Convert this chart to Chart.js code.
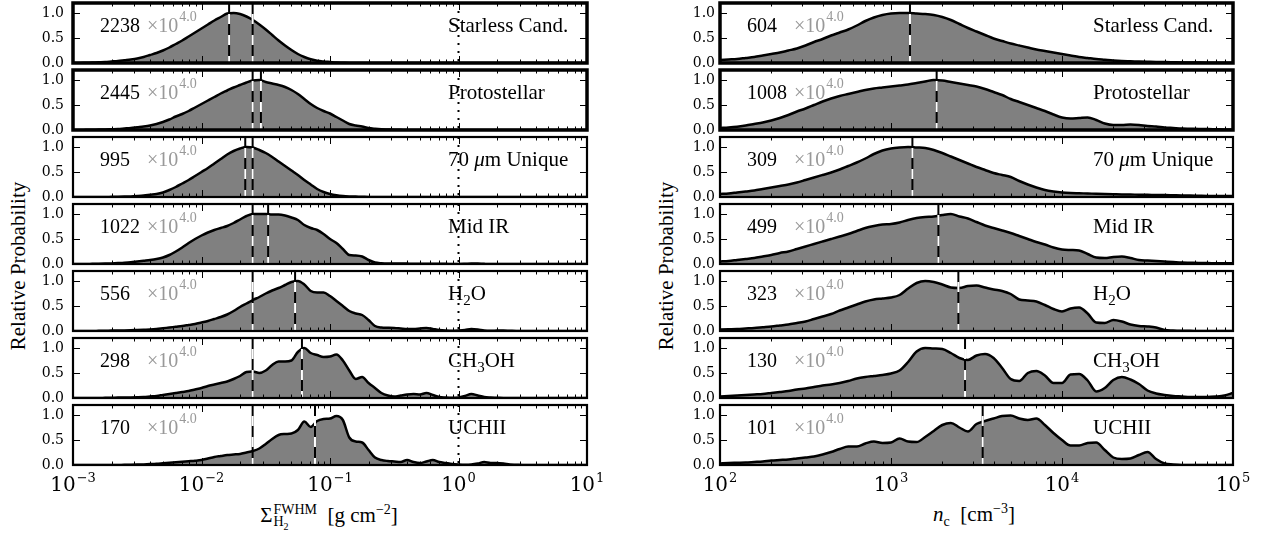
<!DOCTYPE html>
<html>
<head>
<meta charset="utf-8">
<script src="https://cdn.jsdelivr.net/npm/chart.js@4.4.1/dist/chart.umd.min.js"></script>
<style>
  body { margin: 0; background: #fff; width: 1263px; height: 533px; position: relative; overflow: hidden; font-family: "Liberation Serif", "DejaVu Serif", "Noto Serif", "Times New Roman", Times, serif; }
  canvas { position: absolute; }
  .ylab { position: absolute; font-size: 21px; white-space: nowrap; transform: translate(-50%, -50%) rotate(-90deg); }
  .xlab { position: absolute; font-size: 21px; line-height: 20px; white-space: nowrap; transform: translateX(-50%); }
  .stk { display: inline-block; vertical-align: -4px; font-size: 14px; line-height: 12px; margin-left: 1px; }
  .stk span { display: block; }
  .stk sub { font-size: 10px; line-height: 0; }
  .xlab sup { font-size: 14px; line-height: 0; vertical-align: 8px; }
  .xlab > sub { font-size: 14px; line-height: 0; }
</style>
</head>
<body>
<div class="ylab" style="left:18px;top:266px">Relative Probability</div>
<div class="ylab" style="left:666px;top:266px">Relative Probability</div>
<div class="xlab" style="left:329px;top:504px">Σ<span class="stk"><span>FWHM</span><span>H<sub>2</sub></span></span>&nbsp;&nbsp;[g&nbsp;cm<sup>−2</sup>]</div>
<div class="xlab" style="left:974px;top:504px"><i>n</i><sub>c</sub>&nbsp;&nbsp;[cm<sup>−3</sup>]</div>

<script>
// x grids (log10 of the value)
const SIGMA_LOGX = [
  -3.00, -2.95, -2.90, -2.85, -2.80, -2.75, -2.70, -2.65, -2.60, -2.55,
  -2.50, -2.45, -2.40, -2.35, -2.30, -2.25, -2.20, -2.15, -2.10, -2.05,
  -2.00, -1.95, -1.90, -1.85, -1.80, -1.75, -1.70, -1.65, -1.60, -1.55,
  -1.50, -1.45, -1.40, -1.35, -1.30, -1.25, -1.20, -1.15, -1.10, -1.05,
  -1.00, -0.95, -0.90, -0.85, -0.80, -0.75, -0.70, -0.65, -0.60, -0.55,
  -0.50, -0.45, -0.40, -0.35, -0.30, -0.25, -0.20, -0.15, -0.10, -0.05,
  0.00, 0.05, 0.10, 0.15, 0.20, 0.25, 0.30, 0.35, 0.40, 0.45,
  0.50, 0.55, 0.60, 0.65, 0.70, 0.75, 0.80, 0.85, 0.90, 0.95,
  1.00
];
const DENS_LOGX = [
  2.00, 2.05, 2.10, 2.15, 2.20, 2.25, 2.30, 2.35, 2.40, 2.45,
  2.50, 2.55, 2.60, 2.65, 2.70, 2.75, 2.80, 2.85, 2.90, 2.95,
  3.00, 3.05, 3.10, 3.15, 3.20, 3.25, 3.30, 3.35, 3.40, 3.45,
  3.50, 3.55, 3.60, 3.65, 3.70, 3.75, 3.80, 3.85, 3.90, 3.95,
  4.00, 4.05, 4.10, 4.15, 4.20, 4.25, 4.30, 4.35, 4.40, 4.45,
  4.50, 4.55, 4.60, 4.65, 4.70, 4.75, 4.80, 4.85, 4.90, 4.95,
  5.00
];

const CATEGORIES = ['Starless Cand.', 'Protostellar', '70 μm Unique', 'Mid IR', 'H2O', 'CH3OH', 'UCHII'];
const SIGMA_COUNTS = [2238, 2445, 995, 1022, 556, 298, 170];
const DENS_COUNTS = [604, 1008, 309, 499, 323, 130, 101];
const SCALE_NOTE = ['×10', '4.0'];

// dashed lines: medians, plus the fixed cut and dotted line on the left
const SIGMA_MEDIANS = [0.0164, 0.029, 0.0219, 0.033, 0.0535, 0.0605, 0.0764];
const DENS_MEDIANS = [1291, 1849, 1334, 1893, 2477, 2710, 3436];
const SIGMA_CUT = 0.025;
const SIGMA_DOTTED = 1.0;

const SIGMA_DECADES = [-3, -2, -1, 0, 1];
const DENS_DECADES = [2, 3, 4, 5];
const Y_TICKS = [0, 0.5, 1.0];

// Surface density distributions
const sigmaStarless = [
  0, 0, 0.005, 0.01, 0.015, 0.02, 0.03, 0.04, 0.055, 0.07,
  0.09, 0.12, 0.16, 0.2, 0.25, 0.31, 0.38, 0.45, 0.53, 0.61,
  0.69, 0.77, 0.85, 0.92, 0.99, 1.0, 0.98, 0.93, 0.86, 0.77,
  0.67, 0.56, 0.45, 0.35, 0.26, 0.18, 0.12, 0.075, 0.045, 0.03,
  0.02, 0.01, 0.005, 0, 0, 0, 0, 0, 0, 0,
  0, 0, 0, 0, 0, 0, 0, 0, 0, 0,
  0, 0, 0, 0, 0, 0, 0, 0, 0, 0,
  0, 0, 0, 0, 0, 0, 0, 0, 0, 0,
  0
];
const sigmaProto = [
  0, 0, 0.003, 0.005, 0.008, 0.01, 0.015, 0.02, 0.03, 0.04,
  0.055, 0.07, 0.09, 0.12, 0.16, 0.21, 0.27, 0.32, 0.38, 0.45,
  0.52, 0.59, 0.66, 0.73, 0.79, 0.85, 0.9, 0.95, 0.99, 1.0,
  0.96, 0.93, 0.9, 0.86, 0.8, 0.72, 0.62, 0.52, 0.44, 0.38,
  0.33, 0.26, 0.19, 0.12, 0.09, 0.07, 0.04, 0.025, 0.015, 0.01,
  0.005, 0.003, 0, 0, 0, 0, 0, 0, 0, 0,
  0, 0, 0, 0, 0, 0, 0, 0, 0, 0,
  0, 0, 0, 0, 0, 0, 0, 0, 0, 0,
  0
];
const sigma70um = [
  0, 0, 0, 0, 0, 0, 0.003, 0.005, 0.008, 0.012,
  0.02, 0.03, 0.045, 0.06, 0.09, 0.14, 0.2, 0.27, 0.34, 0.42,
  0.5, 0.58, 0.67, 0.76, 0.85, 0.92, 0.97, 1.0, 0.99, 0.94,
  0.88, 0.8, 0.71, 0.62, 0.53, 0.44, 0.34, 0.25, 0.16, 0.1,
  0.06, 0.035, 0.02, 0.012, 0.008, 0.005, 0, 0, 0, 0,
  0, 0, 0, 0, 0, 0, 0, 0, 0, 0,
  0, 0, 0, 0, 0, 0, 0, 0, 0, 0,
  0, 0, 0, 0, 0, 0, 0, 0, 0, 0,
  0
];
const sigmaMidIR = [
  0, 0, 0, 0.003, 0.005, 0.008, 0.012, 0.018, 0.025, 0.035,
  0.05, 0.065, 0.08, 0.1, 0.13, 0.18, 0.25, 0.33, 0.42, 0.5,
  0.57, 0.63, 0.68, 0.72, 0.76, 0.82, 0.89, 0.96, 1.0, 1.0,
  1.0, 0.99, 0.99, 0.97, 0.93, 0.88, 0.78, 0.72, 0.68, 0.6,
  0.5, 0.42, 0.3, 0.18, 0.17, 0.15, 0.08, 0.03, 0.015, 0.01,
  0.012, 0.01, 0.008, 0.006, 0.005, 0.004, 0.004, 0.003, 0.003, 0.002,
  0.002, 0.005, 0.01, 0.008, 0.003, 0, 0, 0, 0, 0,
  0, 0, 0, 0, 0, 0, 0, 0, 0, 0,
  0
];
const sigmaH2O = [
  0, 0, 0, 0, 0.003, 0.005, 0.008, 0.01, 0.012, 0.015,
  0.02, 0.025, 0.03, 0.04, 0.055, 0.07, 0.085, 0.1, 0.12, 0.14,
  0.17, 0.2, 0.24, 0.28, 0.33, 0.4, 0.48, 0.55, 0.62, 0.68,
  0.75, 0.81, 0.86, 0.92, 0.98, 1.0, 0.93, 0.8, 0.77, 0.77,
  0.7, 0.6, 0.5, 0.4, 0.35, 0.32, 0.22, 0.1, 0.07, 0.065,
  0.06, 0.05, 0.04, 0.04, 0.05, 0.06, 0.04, 0.02, 0.01, 0.005,
  0.01, 0.02, 0.04, 0.03, 0.01, 0.005, 0.008, 0.01, 0.005, 0,
  0, 0, 0, 0, 0, 0, 0, 0, 0, 0,
  0
];
const sigmaCH3OH = [
  0, 0, 0, 0, 0, 0.003, 0.005, 0.008, 0.01, 0.012,
  0.015, 0.02, 0.03, 0.04, 0.06, 0.08, 0.1, 0.12, 0.14, 0.17,
  0.2, 0.24, 0.27, 0.3, 0.33, 0.38, 0.44, 0.52, 0.53, 0.5,
  0.55, 0.66, 0.73, 0.73, 0.75, 0.92, 1.0, 0.9, 0.86, 0.82,
  0.83, 0.87, 0.75, 0.55, 0.38, 0.42, 0.3, 0.2, 0.1, 0.05,
  0.03, 0.05, 0.07, 0.08, 0.07, 0.1, 0.06, 0.02, 0.01, 0.005,
  0.01, 0.04, 0.08, 0.05, 0.02, 0.01, 0.005, 0, 0, 0,
  0, 0, 0, 0, 0, 0, 0, 0, 0, 0,
  0
];
const sigmaUCHII = [
  0, 0, 0, 0, 0, 0, 0, 0.002, 0.003, 0.005,
  0.008, 0.012, 0.018, 0.025, 0.035, 0.045, 0.055, 0.065, 0.075, 0.085,
  0.1, 0.13, 0.16, 0.18, 0.2, 0.21, 0.22, 0.25, 0.28, 0.33,
  0.42, 0.52, 0.6, 0.62, 0.63, 0.7, 0.87, 0.76, 0.88, 0.92,
  0.93, 0.98, 0.9, 0.55, 0.47, 0.45, 0.3, 0.15, 0.1, 0.08,
  0.07, 0.06, 0.1, 0.06, 0.04, 0.07, 0.1, 0.06, 0.04, 0.02,
  0.01, 0.005, 0.01, 0.03, 0.06, 0.04, 0.04, 0.03, 0.01, 0.005,
  0, 0, 0, 0, 0, 0, 0, 0, 0, 0,
  0
];

// Central density distributions
const densStarless = [
  0.06, 0.07, 0.08, 0.1, 0.12, 0.15, 0.18, 0.21, 0.25, 0.29,
  0.35, 0.42, 0.48, 0.55, 0.61, 0.67, 0.75, 0.84, 0.91, 0.96,
  0.99, 1.0, 1.0, 0.99, 0.98, 0.96, 0.92, 0.86, 0.78, 0.7,
  0.63, 0.56, 0.49, 0.44, 0.39, 0.35, 0.31, 0.27, 0.24, 0.21,
  0.18, 0.15, 0.12, 0.1, 0.08, 0.065, 0.05, 0.04, 0.035, 0.03,
  0.025, 0.02, 0.018, 0.015, 0.012, 0.01, 0.008, 0.006, 0.005, 0.004,
  0.003
];
const densProto = [
  0.04, 0.05, 0.065, 0.09, 0.12, 0.15, 0.19, 0.24, 0.3, 0.37,
  0.43, 0.5, 0.57, 0.63, 0.68, 0.72, 0.76, 0.8, 0.83, 0.85,
  0.87, 0.89, 0.91, 0.94, 0.97, 1.0, 0.99, 0.96, 0.93, 0.9,
  0.87, 0.82, 0.76, 0.7, 0.62, 0.56, 0.5, 0.44, 0.38, 0.31,
  0.25, 0.23, 0.24, 0.25, 0.2, 0.13, 0.1, 0.1, 0.11, 0.1,
  0.08, 0.07, 0.05, 0.04, 0.03, 0.025, 0.02, 0.02, 0.015, 0.01,
  0.01
];
const dens70um = [
  0.06, 0.07, 0.09, 0.11, 0.13, 0.16, 0.19, 0.22, 0.25, 0.29,
  0.34, 0.39, 0.44, 0.49, 0.55, 0.62, 0.69, 0.77, 0.86, 0.93,
  0.97, 0.99, 1.0, 0.99, 0.98, 0.94, 0.88, 0.81, 0.74, 0.67,
  0.6, 0.54, 0.48, 0.44, 0.4, 0.32, 0.25, 0.19, 0.14, 0.11,
  0.09, 0.08, 0.075, 0.07, 0.065, 0.06, 0.055, 0.05, 0.05, 0.045,
  0.045, 0.04, 0.04, 0.035, 0.03, 0.03, 0.025, 0.02, 0.02, 0.02,
  0.02
];
const densMidIR = [
  0.05, 0.06, 0.08, 0.1, 0.12, 0.15, 0.18, 0.22, 0.25, 0.3,
  0.35, 0.4, 0.45, 0.5, 0.55, 0.6, 0.66, 0.72, 0.76, 0.79,
  0.8, 0.83, 0.88, 0.92, 0.94, 0.95, 0.98, 1.0, 0.95, 0.91,
  0.84, 0.77, 0.72, 0.67, 0.62, 0.56, 0.5, 0.44, 0.39, 0.33,
  0.29, 0.28, 0.27, 0.2, 0.13, 0.12, 0.14, 0.15, 0.12, 0.08,
  0.07, 0.06, 0.05, 0.04, 0.03, 0.025, 0.02, 0.02, 0.015, 0.015,
  0.015
];
const densH2O = [
  0.03, 0.035, 0.04, 0.05, 0.06, 0.075, 0.09, 0.11, 0.13, 0.16,
  0.19, 0.24, 0.29, 0.34, 0.41, 0.47, 0.53, 0.59, 0.63, 0.65,
  0.67, 0.72, 0.85, 0.96, 1.0, 0.98, 0.93, 0.87, 0.86, 0.9,
  0.91, 0.87, 0.83, 0.8, 0.74, 0.63, 0.61, 0.59, 0.52, 0.44,
  0.39, 0.45, 0.47, 0.35, 0.17, 0.16, 0.22, 0.19, 0.13, 0.1,
  0.09, 0.07, 0.02, 0.01, 0.005, 0.003, 0.002, 0, 0, 0,
  0
];
const densCH3OH = [
  0.03, 0.04, 0.05, 0.06, 0.07, 0.08, 0.1, 0.12, 0.14, 0.17,
  0.19, 0.22, 0.25, 0.27, 0.3, 0.34, 0.39, 0.42, 0.44, 0.46,
  0.49, 0.55, 0.72, 0.93, 1.0, 0.99, 0.98, 0.9, 0.8, 0.76,
  0.85, 0.88, 0.8, 0.6, 0.38, 0.34, 0.5, 0.54, 0.45, 0.3,
  0.3, 0.47, 0.48, 0.35, 0.13, 0.2, 0.36, 0.42, 0.37, 0.28,
  0.15, 0.09, 0.06, 0.04, 0.03, 0.02, 0.02, 0.02, 0.03, 0.05,
  0.1
];
const densUCHII = [
  0.03, 0.04, 0.045, 0.05, 0.06, 0.07, 0.09, 0.1, 0.11, 0.13,
  0.15, 0.17, 0.21, 0.26, 0.32, 0.37, 0.37, 0.43, 0.47, 0.44,
  0.45, 0.53, 0.47, 0.46, 0.56, 0.68, 0.8, 0.84, 0.75, 0.67,
  0.82, 0.88, 0.93, 0.98, 0.99, 0.93, 0.9, 0.93, 0.8, 0.64,
  0.5, 0.39, 0.39, 0.44, 0.45, 0.3, 0.15, 0.12, 0.13, 0.2,
  0.26, 0.12, 0.03, 0.01, 0, 0, 0, 0, 0, 0,
  0
];

const SIGMA_SERIES = [sigmaStarless, sigmaProto, sigma70um, sigmaMidIR, sigmaH2O, sigmaCH3OH, sigmaUCHII];
const DENS_SERIES = [densStarless, densProto, dens70um, densMidIR, densH2O, densCH3OH, densUCHII];

// layout
const PLOT_LEFT = [73, 720];
const PLOT_W = [514, 513];
const FIRST_BOTTOM = 63, ROW_PITCH = 67, PLOT_H = 60;
const PAD = 22;
const SERIF = '"Liberation Serif", "DejaVu Serif", "Noto Serif", "Times New Roman", Times, serif';
const TICKFONT = '"DejaVu Serif", "Liberation Serif", "Noto Serif", serif';

// split a label into runs: digits after a letter become subscripts, μ is italic
function labelRuns(text) {
  const runs = [];
  for (let i = 0; i < text.length; i++) {
    const c = text[i];
    let kind = 'n';
    if (/\d/.test(c) && i > 0 && /[A-Z]/.test(text[i - 1])) kind = 'sub';
    if (c === 'μ') kind = 'it';
    const last = runs[runs.length - 1];
    if (last && last.kind === kind) last.t += c; else runs.push({ t: c, kind });
  }
  return runs;
}

function drawRuns(ctx, runs, x, y, size) {
  for (const r of runs) {
    const fs = r.kind === 'sub' ? Math.round(size * 0.7) : size;
    ctx.font = (r.kind === 'it' ? 'italic ' : '') + fs + 'px ' + SERIF;
    ctx.fillText(r.t, x, y + (r.kind === 'sub' ? 5 : 0));
    x += ctx.measureText(r.t).width;
  }
}

function decor(col, row) {
  const isLeft = col === 0;
  const decades = isLeft ? SIGMA_DECADES : DENS_DECADES;
  const markers = isLeft ? [SIGMA_CUT, SIGMA_MEDIANS[row]] : [DENS_MEDIANS[row]];
  return {
    id: 'decor' + col + row,
    afterDatasetsDraw(chart) {
      const { ctx, chartArea: a, scales: { x } } = chart;
      ctx.save();
      ctx.beginPath();
      ctx.rect(a.left, a.top, a.right - a.left, a.bottom - a.top);
      ctx.clip();
      if (isLeft) {
        const px = x.getPixelForValue(SIGMA_DOTTED);
        ctx.strokeStyle = '#000';
        ctx.lineWidth = 2;
        ctx.setLineDash([2, 6]);
        ctx.beginPath(); ctx.moveTo(px, a.top); ctx.lineTo(px, a.bottom); ctx.stroke();
      }
      for (const m of markers) {
        const px = x.getPixelForValue(m);
        ctx.lineWidth = 2;
        ctx.setLineDash([]);
        ctx.strokeStyle = '#000';
        ctx.beginPath(); ctx.moveTo(px, a.top); ctx.lineTo(px, a.bottom); ctx.stroke();
        ctx.setLineDash([10, 11]);
        ctx.lineDashOffset = -11;
        ctx.strokeStyle = '#fff';
        ctx.beginPath(); ctx.moveTo(px, a.top); ctx.lineTo(px, a.bottom); ctx.stroke();
      }
      ctx.restore();
    },
    afterDraw(chart) {
      const { ctx, chartArea: a, scales: { x, y } } = chart;
      ctx.save();
      ctx.setLineDash([]);
      ctx.strokeStyle = '#000';
      // inward ticks
      ctx.lineWidth = 1;
      ctx.beginPath();
      const top = Math.pow(10, decades[decades.length - 1]);
      for (let e = decades[0]; e <= decades[decades.length - 1]; e++) {
        for (let m = 1; m <= 9; m++) {
          const v = m * Math.pow(10, e);
          if (v > top * 1.0001) break;
          const px = Math.round(x.getPixelForValue(v)) + 0.5;
          const len = m === 1 ? 7 : 3.5;
          ctx.moveTo(px, a.bottom); ctx.lineTo(px, a.bottom - len);
          ctx.moveTo(px, a.top); ctx.lineTo(px, a.top + len);
        }
      }
      for (const t of Y_TICKS) {
        const py = Math.round(y.getPixelForValue(t)) + 0.5;
        ctx.moveTo(a.left, py); ctx.lineTo(a.left + 7, py);
        ctx.moveTo(a.right, py); ctx.lineTo(a.right - 7, py);
      }
      ctx.stroke();
      // frame
      ctx.lineWidth = row < 2 ? 3.5 : 2.2;
      ctx.strokeRect(a.left, a.top, a.right - a.left, a.bottom - a.top);

      // annotations
      const count = (isLeft ? SIGMA_COUNTS : DENS_COUNTS)[row];
      const base = a.top + 29;
      ctx.fillStyle = '#000';
      ctx.textBaseline = 'alphabetic';
      ctx.textAlign = 'left';
      ctx.font = '20px ' + SERIF;
      ctx.fillText(String(count), a.left + 27, base);
      ctx.fillStyle = '#999';
      ctx.fillText(SCALE_NOTE[0], a.left + 74, base);
      const w = ctx.measureText(SCALE_NOTE[0]).width;
      ctx.font = '14px ' + SERIF;
      ctx.fillText(SCALE_NOTE[1], a.left + 74 + w + 1, base - 11);
      ctx.fillStyle = '#000';
      drawRuns(ctx, labelRuns(CATEGORIES[row]), a.left + (isLeft ? 375 : 373), base, 21);

      // decade labels on the bottom row
      if (row === 6) {
        for (const e of decades) {
          const px = x.getPixelForValue(Math.pow(10, e));
          const ex = e < 0 ? '−' + Math.abs(e) : String(e);
          ctx.font = '20px ' + TICKFONT;
          const w1 = ctx.measureText('10').width;
          ctx.font = '13px ' + TICKFONT;
          const w2 = ctx.measureText(ex).width;
          const x0 = px - (w1 + w2 + 1) / 2;
          ctx.font = '20px ' + TICKFONT;
          ctx.fillText('10', x0, a.bottom + 26);
          ctx.font = '13px ' + TICKFONT;
          ctx.fillText(ex, x0 + w1 + 1, a.bottom + 17);
        }
      }
      ctx.restore();
    }
  };
}

function makePanel(col, row) {
  const isLeft = col === 0;
  const isBottom = row === 6;
  const L = PLOT_LEFT[col], W = PLOT_W[col];
  const T = FIRST_BOTTOM + ROW_PITCH * row - PLOT_H;
  const cw = W + 60 + 30, ch = PLOT_H + PAD + (isBottom ? 40 : PAD);
  const cv = document.createElement('canvas');
  cv.width = cw; cv.height = ch;
  cv.style.left = (L - 60) + 'px';
  cv.style.top = (T - PAD) + 'px';
  cv.style.width = cw + 'px'; cv.style.height = ch + 'px';
  document.body.appendChild(cv);

  const logx = isLeft ? SIGMA_LOGX : DENS_LOGX;
  const vals = (isLeft ? SIGMA_SERIES : DENS_SERIES)[row];
  const pts = logx.map((lx, i) => ({ x: Math.pow(10, lx), y: vals[i] }));
  const decades = isLeft ? SIGMA_DECADES : DENS_DECADES;

  new Chart(cv, {
    type: 'line',
    data: {
      datasets: [{
        data: pts,
        borderColor: '#000',
        borderWidth: 2.5,
        backgroundColor: '#808080',
        fill: 'origin',
        pointRadius: 0,
        cubicInterpolationMode: 'monotone'
      }]
    },
    options: {
      responsive: false,
      animation: false,
      events: [],
      layout: { padding: { left: 0, top: PAD, right: 30, bottom: isBottom ? 0 : PAD } },
      plugins: { legend: { display: false }, tooltip: { enabled: false } },
      scales: {
        x: {
          type: 'logarithmic',
          min: Math.pow(10, decades[0]),
          max: Math.pow(10, decades[decades.length - 1]),
          grid: { display: false, drawTicks: false },
          border: { display: false },
          ticks: { display: false },
          afterFit: s => { s.height = isBottom ? 40 : 0; }
        },
        y: {
          min: 0,
          max: 1.2,
          grid: { display: false, drawTicks: false },
          border: { display: false },
          ticks: {
            padding: isLeft ? 9 : 5,
            color: '#000',
            autoSkip: false,
            font: { family: TICKFONT, size: 14 },
            callback: v => Number(v).toFixed(1)
          },
          afterBuildTicks: s => { s.ticks = Y_TICKS.map(v => ({ value: v })); },
          afterFit: s => { s.width = 60; }
        }
      }
    },
    plugins: [decor(col, row)]
  });
}

for (let c = 0; c < 2; c++) {
  for (let r = 0; r < 7; r++) makePanel(c, r);
}
</script>
</body>
</html>
